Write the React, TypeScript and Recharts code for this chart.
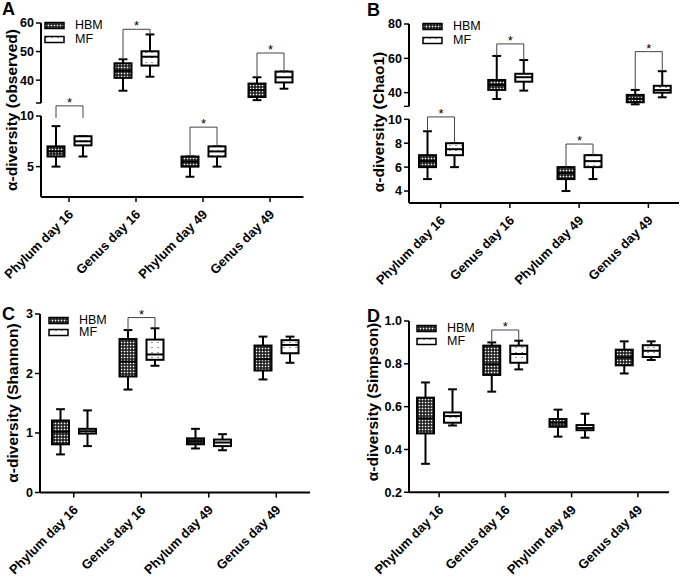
import React from "react";
import { Bar, ComposedChart, XAxis, YAxis } from "recharts";

const categories = ["Phylum day 16", "Genus day 16", "Phylum day 49", "Genus day 49"];

// box stats per category: [min, q1, median, q3, max]
const observedHBM = [
  [5, 6, 6.5, 7, 9],
  [36.3, 40.8, 43.3, 45.9, 47.3],
  [4, 5, 5.5, 6, 6],
  [33, 34.1, 36.5, 38.8, 41],
];
const observedMF = [
  [6, 7.1, 7.5, 8, 8],
  [41.2, 45.1, 48.2, 50.1, 56],
  [5, 6, 6.5, 7, 7],
  [37, 39.2, 41, 43, 43],
];
const observedSig = [11, 57.8, 8.9, 49.5];
const observedSigLeg = [9.8, null, null, null];

const chaoHBM = [
  [5, 6, 6.5, 7, 9],
  [36.3, 41.6, 44.5, 47.4, 61.4],
  [4, 5, 5.5, 6, 6],
  [33.2, 34.4, 36.5, 38.7, 41.6],
];
const chaoMF = [
  [6, 7, 7.5, 8, 8],
  [41.2, 46.4, 49, 51, 59],
  [5, 6, 6.5, 7, 7],
  [37.3, 40, 41.5, 44, 52.5],
];
const chaoSig = [10.2, 68.4, 7.93, 63.9];

const shannonHBM = [
  [0.64, 0.81, 1.02, 1.21, 1.4],
  [1.73, 1.95, 2.2, 2.58, 2.73],
  [0.74, 0.81, 0.86, 0.91, 1.07],
  [1.9, 2.05, 2.24, 2.47, 2.62],
];
const shannonMF = [
  [0.78, 0.99, 1.03, 1.07, 1.38],
  [2.13, 2.23, 2.32, 2.57, 2.76],
  [0.71, 0.78, 0.84, 0.89, 0.98],
  [2.18, 2.34, 2.48, 2.56, 2.62],
];
const shannonSig = [null, 2.94, null, null];

const simpsonHBM = [
  [0.333, 0.475, 0.545, 0.642, 0.713],
  [0.67, 0.748, 0.798, 0.885, 0.9],
  [0.46, 0.506, 0.525, 0.542, 0.586],
  [0.755, 0.793, 0.83, 0.866, 0.905],
];
const simpsonMF = [
  [0.512, 0.525, 0.556, 0.573, 0.681],
  [0.774, 0.805, 0.846, 0.885, 0.908],
  [0.455, 0.49, 0.5, 0.514, 0.567],
  [0.818, 0.832, 0.861, 0.887, 0.905],
];
const simpsonSig = [null, 0.958, null, null];

const observedUpperTicks = [32, 40, 50, 60];
const observedLowerTicks = [5, 10];
const chaoUpperTicks = [32, 40, 60, 80];
const chaoLowerTicks = [4, 6, 8, 10];
const shannonTicks = [0, 1, 2, 3];
const simpsonTicks = [0.2, 0.4, 0.6, 0.8, 1.0];

const axisBreak = 10;
const FONT = "'Liberation Sans', Arial, sans-serif";
const BAR_SIZE = 17;
const BAR_GAP = 10;

type Stats = number[];
type Row = { name: string; hbm: Stats | null; mf: Stats | null; sig: number | null; leg: number | null };

const buildRows = (
  hbm: Stats[],
  mf: Stats[],
  sig: (number | null)[],
  leg: (number | null)[] | null,
  keep: (s: Stats) => boolean
): Row[] =>
  categories.map((name, i) => {
    const show = keep(hbm[i]);
    return {
      name,
      hbm: show ? hbm[i] : null,
      mf: show ? mf[i] : null,
      sig: show ? sig[i] : null,
      leg: show && leg ? leg[i] : null,
    };
  });

function BoxShape(props: any) {
  const { x, y, width, height, payload, group } = props;
  const s: Stats | null = payload[group];
  if (!s) return null;
  const [mn, q1, med, q3, mx] = s;
  const top = Math.min(y, y + height);
  const h = Math.abs(height);
  const py = (v: number) => top + h - ((v - q1) / (q3 - q1)) * h;
  const cx = x + width / 2;
  const cap = width * 0.26;
  const isLeft = group === "hbm";
  const mid = cx + ((isLeft ? 1 : -1) * (width + BAR_GAP)) / 2;
  return (
    <g>
      <line x1={cx} x2={cx} y1={py(mx)} y2={top} stroke="#000" strokeWidth={2} />
      <line x1={cx} x2={cx} y1={top + h} y2={py(mn)} stroke="#000" strokeWidth={2} />
      <line x1={cx - cap} x2={cx + cap} y1={py(mx)} y2={py(mx)} stroke="#000" strokeWidth={2} />
      <line x1={cx - cap} x2={cx + cap} y1={py(mn)} y2={py(mn)} stroke="#000" strokeWidth={2} />
      <rect x={x} y={top} width={width} height={h} fill={`url(#${group}Fill)`} stroke="#000" strokeWidth={2} />
      <line x1={x} x2={x + width} y1={py(med)} y2={py(med)} stroke="#000" strokeWidth={2} />
      {payload.sig != null && (
        <path
          d={`M${cx},${py(payload.leg ?? mx)}V${py(payload.sig)}H${mid}`}
          fill="none"
          stroke="#444"
          strokeWidth={1}
        />
      )}
      {payload.sig != null && isLeft && (
        <text x={mid} y={py(payload.sig) + 1} textAnchor="middle" fontSize={13} fontFamily={FONT} fill="#000">
          *
        </text>
      )}
    </g>
  );
}

function CategoryTick(props: any) {
  const { x, y, payload } = props;
  return (
    <g transform={`translate(${x + 2},${y + 8})`}>
      <text
        textAnchor="end"
        transform="rotate(-45)"
        dy="0.35em"
        fontSize={13}
        fontWeight="bold"
        fontFamily={FONT}
        fill="#000"
      >
        {payload.value}
      </text>
    </g>
  );
}

type ChartProps = {
  left: number;
  top: number;
  width: number;
  height: number;
  margin: { top: number; right: number; bottom: number; left: number };
  yWidth: number;
  xHeight?: number;
  showX: boolean;
  xPad: { left: number; right: number };
  rows: Row[];
  domain: [number, number];
  ticks: number[];
  fmt?: (v: number) => string;
};

function BoxChart(p: ChartProps) {
  return (
    <div style={{ position: "absolute", left: p.left, top: p.top }}>
      <ComposedChart
        width={p.width}
        height={p.height}
        data={p.rows}
        margin={p.margin}
        barSize={BAR_SIZE}
        barGap={BAR_GAP}
      >
        <XAxis
          dataKey="name"
          type="category"
          hide={!p.showX}
          height={p.xHeight ?? 30}
          padding={p.xPad}
          interval={0}
          axisLine={{ stroke: "#000", strokeWidth: 2 }}
          tickLine={{ stroke: "#000", strokeWidth: 1.5 }}
          tickSize={5}
          tick={<CategoryTick />}
        />
        <YAxis
          type="number"
          domain={p.domain}
          ticks={p.ticks}
          interval={0}
          width={p.yWidth}
          axisLine={{ stroke: "#000", strokeWidth: 2 }}
          tickLine={{ stroke: "#000", strokeWidth: 1.5 }}
          tickSize={5}
          tickFormatter={p.fmt}
          tick={{ fontSize: 12.5, fontWeight: "bold", fill: "#000", fontFamily: FONT }}
        />
        <Bar
          name="HBM"
          dataKey={(d: Row) => (d.hbm ? [d.hbm[1], d.hbm[3]] : null)}
          shape={(s: any) => <BoxShape {...s} group="hbm" />}
          isAnimationActive={false}
        />
        <Bar
          name="MF"
          dataKey={(d: Row) => (d.mf ? [d.mf[1], d.mf[3]] : null)}
          shape={(s: any) => <BoxShape {...s} group="mf" />}
          isAnimationActive={false}
        />
      </ComposedChart>
    </div>
  );
}

function GroupLegend({ x, y, gap }: { x: number; y: number; gap: number }) {
  const items = [
    { name: "HBM", fill: "url(#hbmFill)" },
    { name: "MF", fill: "url(#mfFill)" },
  ];
  return (
    <div style={{ position: "absolute", left: x, top: y }}>
      {items.map((it) => (
        <div key={it.name} style={{ display: "flex", alignItems: "center", height: gap }}>
          <svg width={22} height={9}>
            <rect x={1} y={1.5} width={19} height={6} fill={it.fill} stroke="#000" strokeWidth={1.5} />
          </svg>
          <span style={{ marginLeft: 9, fontSize: 12.5, fontFamily: FONT, lineHeight: "11px" }}>{it.name}</span>
        </div>
      ))}
    </div>
  );
}

function AxisTitle({ x, y, text }: { x: number; y: number; text: string }) {
  return (
    <div
      style={{
        position: "absolute",
        left: x,
        top: y,
        transform: "translate(-50%, -50%) rotate(-90deg)",
        whiteSpace: "nowrap",
        fontWeight: "bold",
        fontSize: 15.5,
        fontFamily: FONT,
        lineHeight: "16px",
      }}
    >
      {text}
    </div>
  );
}

function PanelLetter({ x, y, text }: { x: number; y: number; text: string }) {
  return (
    <div style={{ position: "absolute", left: x, top: y, fontWeight: "bold", fontSize: 18, fontFamily: FONT, lineHeight: "18px" }}>
      {text}
    </div>
  );
}

const hideBreakTick = (cut: number) => (v: number) => (v === cut ? "" : String(v));

export default function App() {
  const upper = (s: Stats) => s[1] > axisBreak;
  const lower = (s: Stats) => s[1] <= axisBreak;
  const all = () => true;

  return (
    <div style={{ position: "absolute", left: 0, top: 0, width: 680, height: 576, background: "#fff", overflow: "hidden" }}>
      <svg width={0} height={0} style={{ position: "absolute" }}>
        <defs>
          <pattern id="hbmFill" width={3} height={3} patternUnits="userSpaceOnUse">
            <rect width={3} height={3} fill="#111" />
            <rect x={0.7} y={0.7} width={1.6} height={1.6} fill="#fff" />
          </pattern>
          <pattern id="mfFill" width={6} height={5} patternUnits="userSpaceOnUse">
            <rect width={6} height={5} fill="#fff" />
            <rect x={1} y={2} width={2} height={1} fill="#999" />
          </pattern>
        </defs>
      </svg>

      {/* A: observed, broken axis */}
      <BoxChart
        left={0} top={0} width={340} height={104}
        margin={{ top: 23, right: 36.5, bottom: 1, left: 0 }}
        yWidth={41} showX={false} xPad={{ left: -5.5, right: 0 }}
        rows={buildRows(observedHBM, observedMF, observedSig, observedSigLeg, upper)}
        domain={[32, 60]} ticks={observedUpperTicks} fmt={hideBreakTick(32)}
      />
      <BoxChart
        left={0} top={88} width={340} height={209}
        margin={{ top: 28, right: 36.5, bottom: 0, left: 0 }}
        yWidth={41} xHeight={100} showX xPad={{ left: -5.5, right: 0 }}
        rows={buildRows(observedHBM, observedMF, observedSig, observedSigLeg, lower)}
        domain={[2, 10]} ticks={observedLowerTicks}
      />
      <AxisTitle x={12} y={110} text="α-diversity (observed)" />
      <GroupLegend x={44} y={18} gap={14} />
      <PanelLetter x={2} y={0} text="A" />

      {/* B: Chao1, broken axis */}
      <BoxChart
        left={340} top={0} width={340} height={107}
        margin={{ top: 24, right: 1, bottom: 0.6, left: 0 }}
        yWidth={69} showX={false} xPad={{ left: -3, right: -4 }}
        rows={buildRows(chaoHBM, chaoMF, chaoSig, null, upper)}
        domain={[32, 80]} ticks={chaoUpperTicks} fmt={hideBreakTick(32)}
      />
      <BoxChart
        left={340} top={88} width={340} height={215}
        margin={{ top: 31.3, right: 1, bottom: 0, left: 0 }}
        yWidth={69} xHeight={100} showX xPad={{ left: -3, right: -4 }}
        rows={buildRows(chaoHBM, chaoMF, chaoSig, null, lower)}
        domain={[3, 10]} ticks={chaoLowerTicks}
      />
      <AxisTitle x={379} y={122} text="α-diversity (Chao1)" />
      <GroupLegend x={422} y={20} gap={13.5} />
      <PanelLetter x={367} y={1} text="B" />

      {/* C: Shannon */}
      <BoxChart
        left={0} top={290} width={340} height={300}
        margin={{ top: 24, right: 30, bottom: 0, left: 0 }}
        yWidth={40} xHeight={97.5} showX xPad={{ left: 0, right: 0 }}
        rows={buildRows(shannonHBM, shannonMF, shannonSig, null, all)}
        domain={[0, 3]} ticks={shannonTicks}
      />
      <AxisTitle x={13} y={403} text="α-diversity (Shannon)" />
      <GroupLegend x={48} y={314} gap={12.5} />
      <PanelLetter x={2} y={305} text="C" />

      {/* D: Simpson */}
      <BoxChart
        left={340} top={290} width={340} height={300}
        margin={{ top: 31, right: 11, bottom: 0, left: 0 }}
        yWidth={69} xHeight={97.7} showX xPad={{ left: -3, right: -2 }}
        rows={buildRows(simpsonHBM, simpsonMF, simpsonSig, null, all)}
        domain={[0.2, 1]} ticks={simpsonTicks} fmt={(v: number) => v.toFixed(1)}
      />
      <AxisTitle x={373} y={402} text="α-diversity (Simpson)" />
      <GroupLegend x={416} y={322} gap={13} />
      <PanelLetter x={367} y={307} text="D" />
    </div>
  );
}
